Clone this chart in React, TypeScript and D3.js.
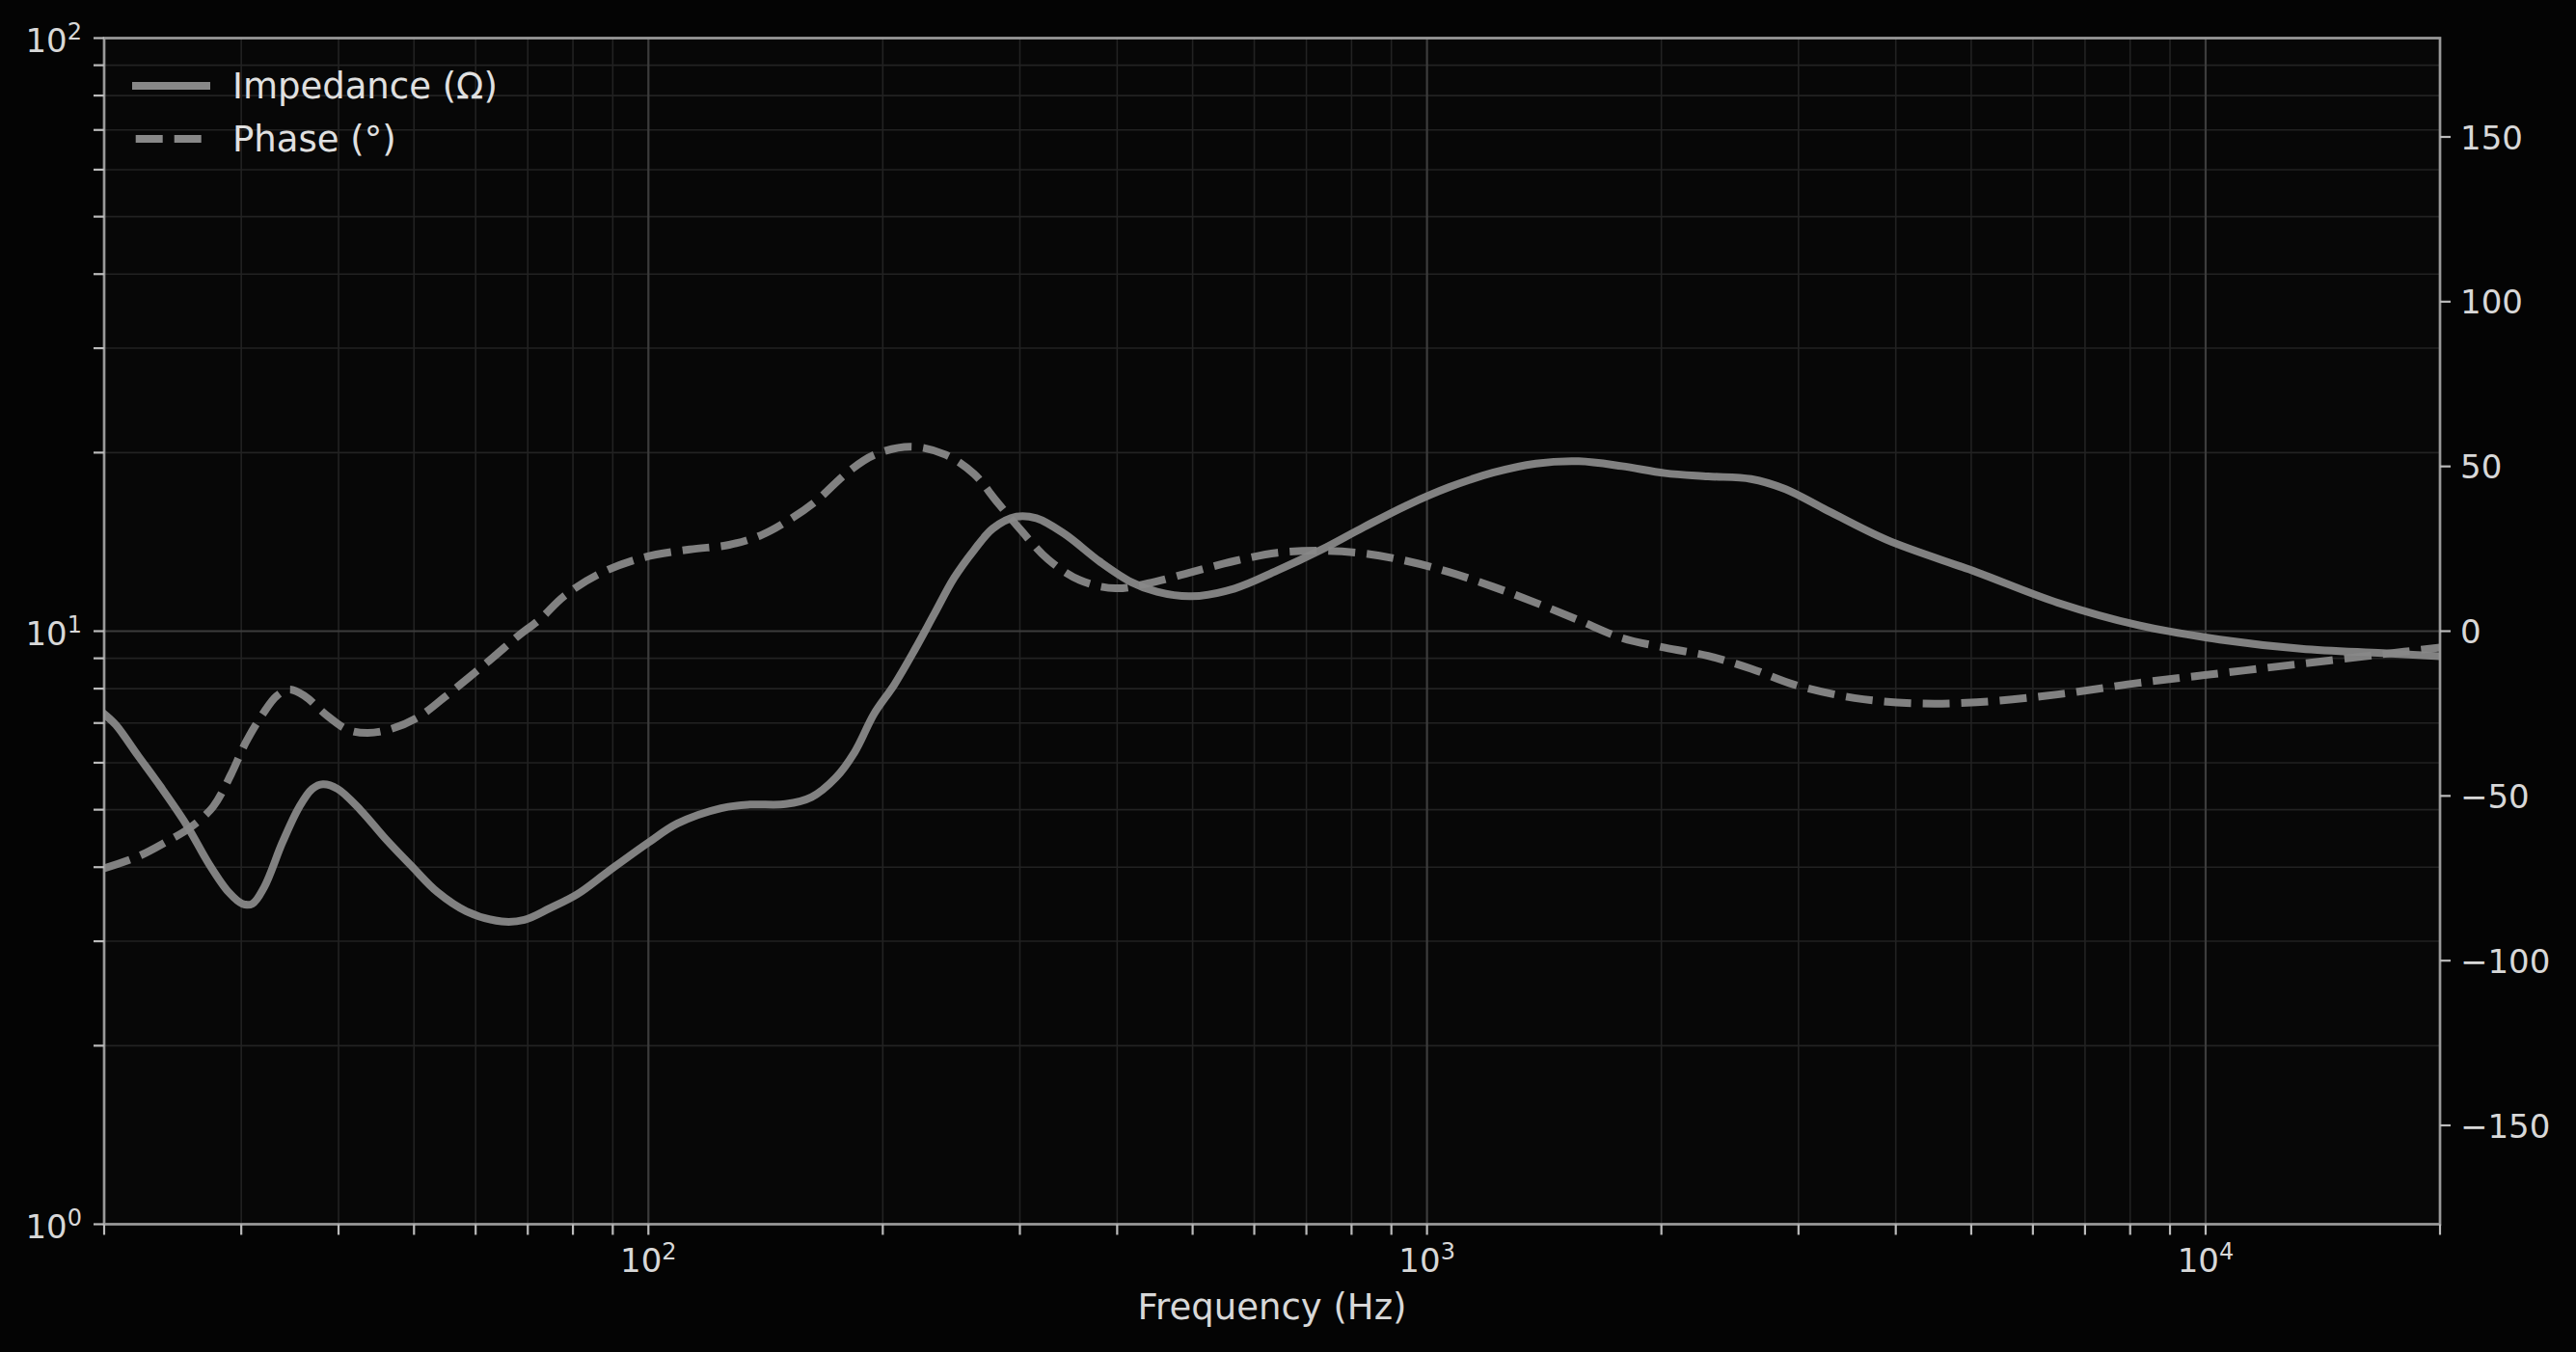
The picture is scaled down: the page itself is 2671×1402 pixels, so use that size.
import React from 'react';
import * as d3 from 'd3';

// impedance curve (Hz, ohm)
const zFreq = [
  20, 20.7, 22.1, 23.6, 25.5, 27.3, 28.9, 30.1, 31.0, 32.1, 33.9, 35.6, 37.0, 38.2, 39.9,
  42.7, 46.0, 49.7, 53.6, 58.4, 64.8, 69.3, 74.7, 81, 88.7, 100, 109, 124, 135, 150, 162,
  174, 184, 195, 207, 220, 233, 247, 262, 277, 297, 315, 342, 380, 417, 450, 498, 566, 642,
  730, 829, 942, 1069, 1215, 1380, 1567, 1780, 2021, 2296, 2608, 2887, 3231, 3897, 5077,
  6454, 8204, 10430, 13260, 16870, 20000,
];
const impedance = [
  7.25, 6.95, 6.17, 5.48, 4.72, 4.04, 3.63, 3.47, 3.47, 3.7, 4.41, 5.05, 5.42, 5.52, 5.42,
  4.99, 4.46, 4.01, 3.63, 3.37, 3.24, 3.26, 3.41, 3.6, 3.93, 4.4, 4.74, 5.03, 5.1, 5.11, 5.25,
  5.66, 6.25, 7.26, 8.13, 9.32, 10.7, 12.3, 13.7, 14.9, 15.6, 15.5, 14.6, 13.1, 12.1, 11.65, 11.45, 11.8, 12.65,
  13.7, 14.97, 16.3, 17.5, 18.5, 19.17, 19.34, 18.98, 18.47, 18.24, 18.05, 17.35, 16.1, 14.25, 12.58,
  11.17, 10.23, 9.68, 9.34, 9.18, 9.07,
];

// phase curve (Hz, degrees)
const pFreq = [
  20, 22.1, 24.0, 25.8, 27.6, 29.1, 30.4, 32.1, 33.3, 34.6, 36.2, 38.6, 41.1, 43.6, 46.7,
  50.7, 54.7, 59.0, 63.5, 68, 72.7, 77.9, 86.5, 98.3, 113, 127, 139.5, 151, 164, 180, 195,
  217, 241, 262, 280, 301, 326, 358, 398, 438, 498, 566, 642, 730, 829, 942, 1069, 1215,
  1380, 1567, 1780, 2021, 2296, 2608, 2960, 3540, 4240, 5077, 6454, 8204, 10430, 13260,
  16870, 20000,
];
const phase = [
  -72, -68.4, -64.0, -59.6, -53.3, -43.5, -33.8, -24.5, -19.7, -17.7, -19.7, -25.5, -29.9, -30.9, -29.7,
  -26.0, -20.1, -13.8, -7.5, -1.5, 3.8, 10.6, 17.4, 22.3, 24.8, 26.2, 29.1, 33.5, 39.4, 48.1, 53.5,
  56.0, 53.5, 47.7, 39.4, 30.6, 21.8, 15.5, 13.0, 14.5, 17.9, 21.3, 23.8, 24.4, 23.6, 21.3, 17.9, 13.5,
  8.6, 3.3, -2.1, -5.0, -7.5, -11.4, -16.2, -20.3, -21.9, -21.6, -19.2, -15.7, -12.8, -9.9,
  -7.0, -5.0,
];

const xTickExp = [2, 3, 4];
const yTickExp = [0, 1, 2];
const phaseTicks = [-150, -100, -50, 0, 50, 100, 150];
const legendItems = ['Impedance (\u03A9)', 'Phase (\u00B0)'];

const W = 2671;
const H = 1402;
const L = 108;
const R = 2530;
const T = 39.5;
const B = 1269.5;

const FONT = 'DejaVu Sans, sans-serif';
const LINE = '#888888';
const LW = 8;
const DASH = '28 12';

export default function App() {
  const x = d3.scaleLog().domain([20, 20000]).range([L, R]);
  const y = d3.scaleLog().domain([1, 100]).range([B, T]);
  const yp = d3.scaleLinear().domain([-180, 180]).range([B, T]);

  const xMinor = x.ticks().filter((v) => !xTickExp.some((e) => Math.abs(v - 10 ** e) < 1e-6));
  const yMinor = y.ticks().filter((v) => !yTickExp.some((e) => Math.abs(v - 10 ** e) < 1e-6));

  const zLine = d3
    .line<number>()
    .x((d, i) => x(zFreq[i]))
    .y((d) => y(d))
    .curve(d3.curveCatmullRom.alpha(0.5));
  const pLine = d3
    .line<number>()
    .x((d, i) => x(pFreq[i]))
    .y((d) => yp(d))
    .curve(d3.curveCatmullRom.alpha(0.5));

  return (
    <div style={{ position: 'fixed', left: 0, top: 0 }}>
      <svg width={W} height={H} style={{ display: 'block', background: '#040404' }} fontFamily={FONT}>
        <defs>
          <clipPath id="plot">
            <rect x={L} y={T} width={R - L} height={B - T} />
          </clipPath>
        </defs>
        <rect x={L} y={T} width={R - L} height={B - T} fill="#070707" />

        {/* minor grid */}
        {xMinor.map((v) => (
          <line key={'xg' + v} x1={x(v)} x2={x(v)} y1={T} y2={B} stroke="#222" strokeWidth={1.6} />
        ))}
        {yMinor.map((v) => (
          <line key={'yg' + v} x1={L} x2={R} y1={y(v)} y2={y(v)} stroke="#222" strokeWidth={1.6} />
        ))}
        {/* major grid */}
        {xTickExp.map((e) => (
          <line key={'xG' + e} x1={x(10 ** e)} x2={x(10 ** e)} y1={T} y2={B} stroke="#3c3c3c" strokeWidth={2.2} />
        ))}
        {yTickExp.map((e) => (
          <line key={'yG' + e} x1={L} x2={R} y1={y(10 ** e)} y2={y(10 ** e)} stroke="#3c3c3c" strokeWidth={2.2} />
        ))}

        <g clipPath="url(#plot)">
          <path
            d={zLine(impedance) || ''}
            fill="none"
            stroke={LINE}
            strokeWidth={LW}
            strokeLinejoin="round"
            strokeLinecap="square"
            opacity={0.95}
          />
          <path
            d={pLine(phase) || ''}
            fill="none"
            stroke={LINE}
            strokeWidth={LW}
            strokeDasharray={DASH}
            strokeLinejoin="round"
            opacity={0.95}
          />
        </g>

        {/* spines */}
        <rect x={L} y={T} width={R - L} height={B - T} fill="none" stroke="#999" strokeWidth={2.7} />

        {/* x ticks */}
        {x.ticks().map((v) => (
          <line key={'xt' + v} x1={x(v)} x2={x(v)} y1={B} y2={B + 11} stroke="#bbb" strokeWidth={2.2} />
        ))}
        {xTickExp.map((e) => (
          <text key={'xl' + e} x={x(10 ** e)} y={1319} textAnchor="middle" fill="#d8d8d8" fontSize={34}>
            <tspan>10</tspan>
            <tspan dy={-13} fontSize={24}>
              {e}
            </tspan>
          </text>
        ))}
        <text x={(L + R) / 2} y={1368} textAnchor="middle" fill="#d8d8d8" fontSize={37}>
          Frequency (Hz)
        </text>

        {/* left ticks */}
        {y.ticks().map((v) => (
          <line key={'yt' + v} x1={L - 11} x2={L} y1={y(v)} y2={y(v)} stroke="#bbb" strokeWidth={2.2} />
        ))}
        {yTickExp.map((e) => (
          <text key={'yl' + e} x={85} y={y(10 ** e) + 14} textAnchor="end" fill="#d8d8d8" fontSize={34}>
            <tspan>10</tspan>
            <tspan dy={-13} fontSize={24}>
              {e}
            </tspan>
          </text>
        ))}

        {/* right ticks */}
        {phaseTicks.map((v) => (
          <g key={'pt' + v}>
            <line x1={R} x2={R + 11} y1={yp(v)} y2={yp(v)} stroke="#bbb" strokeWidth={2.2} />
            <text x={2551} y={yp(v) + 12.5} fill="#d8d8d8" fontSize={34}>
              {v < 0 ? '\u2212' + Math.abs(v) : String(v)}
            </text>
          </g>
        ))}

        {/* legend */}
        {legendItems.map((label, i) => {
          const ly = 89 + i * 55;
          return (
            <g key={label}>
              <line
                x1={i === 0 ? 141 : 140.7}
                x2={i === 0 ? 214 : 218}
                y1={ly}
                y2={ly}
                stroke={LINE}
                strokeWidth={LW}
                strokeDasharray={i === 1 ? DASH : undefined}
                strokeLinecap={i === 0 ? 'square' : 'butt'}
              />
              <text x={241} y={ly + 13} fill="#e0e0e0" fontSize={37}>
                {label}
              </text>
            </g>
          );
        })}
      </svg>
    </div>
  );
}
